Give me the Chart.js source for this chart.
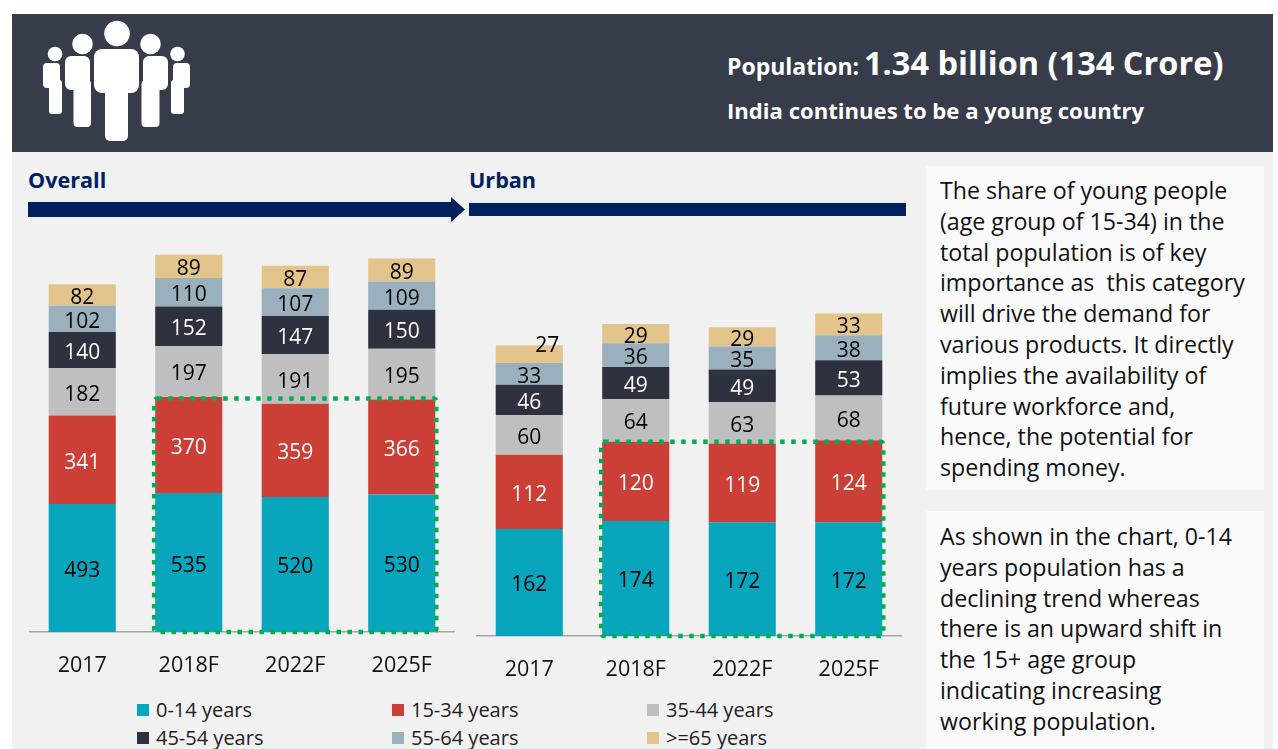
<!DOCTYPE html>
<html>
<head>
<meta charset="utf-8">
<title>India population</title>
<script src="https://cdn.jsdelivr.net/npm/chart.js@4"></script>
<style>
  html, body { margin: 0; padding: 0; background: #fff; overflow: hidden; }
  body { width: 1278px; height: 749px; position: relative; font-family: "Open Sans", sans-serif; color: #111; }
  .abs { position: absolute; white-space: nowrap; }
  #header { left: 12px; top: 14px; width: 1261px; height: 138px; background: #363c4a; }
  #panel { left: 12px; top: 152px; width: 1261px; height: 597px; background: #f1f1f1; }
  .hd { color: #fff; font-weight: 700; }
  .sub { color: #002060; font-weight: 700; font-size: 21.6px; line-height: 28px; }
  .note { left: 926px; width: 338px; background: #fafafa; font-size: 23.2px; line-height: 30.8px; }
  .note div { position: absolute; left: 14px; white-space: pre; }
  .key { font-size: 20px; line-height: 24px; color: #222; }
  .swatch { width: 12px; height: 12px; }
  canvas { position: absolute; }
</style>
</head>
<body>
<div class="abs" id="header"></div>
<div class="abs" id="panel"></div>

<svg class="abs" style="left:0;top:0" width="240" height="152" fill="#fff">
  <circle cx="117" cy="33.5" r="12.8"/>
  <rect x="94" y="49" width="45" height="44" rx="8"/>
  <rect x="105" y="85" width="23" height="56" rx="5"/>
  <circle cx="82.5" cy="44" r="10.3"/>
  <rect x="65" y="56" width="25" height="34" rx="6"/>
  <rect x="73.5" y="80" width="17.5" height="47" rx="4"/>
  <circle cx="150.5" cy="44" r="10.3"/>
  <rect x="143" y="56" width="25" height="34" rx="6"/>
  <rect x="141.5" y="80" width="18" height="47" rx="4"/>
  <circle cx="55" cy="54" r="7.3"/>
  <rect x="43" y="63" width="17" height="25" rx="4"/>
  <rect x="49" y="80" width="13" height="34" rx="3"/>
  <circle cx="177.5" cy="54" r="7.3"/>
  <rect x="173" y="63" width="17" height="25" rx="4"/>
  <rect x="171" y="80" width="13" height="34" rx="3"/>
</svg>

<div class="abs hd" style="left:727px;top:50px;font-size:23px;line-height:32px">Population:</div>
<div class="abs hd" style="left:864px;top:41px;font-size:32.5px;line-height:44px">1.34 billion (134 Crore)</div>
<div class="abs hd" style="left:727px;top:95px;font-size:22.1px;line-height:30px">India continues to be a young country</div>

<div class="abs sub" style="left:28px;top:166px">Overall</div>
<div class="abs sub" style="left:469px;top:166px">Urban</div>
<svg class="abs" style="left:0;top:190px" width="920" height="40" fill="#002060">
  <polygon points="28,12 451,12 451,7 465,19.5 451,32 451,27 28,27"/>
  <rect x="469" y="13" width="437" height="13"/>
</svg>

<canvas id="overallChart" width="426" height="440" style="left:29px;top:240px"></canvas>
<canvas id="urbanChart" width="426" height="440" style="left:476px;top:244px"></canvas>

<div id="legend"></div>

<div class="abs note" style="top:166px;height:324px">
  <div style="top:9px">The share of young people
(age group of 15-34) in the
total population is of key
importance as  this category
will drive the demand for
various products. It directly
implies the availability of
future workforce and,
hence, the potential for
spending money.</div>
</div>
<div class="abs note" style="top:511px;height:238px">
  <div style="top:10px">As shown in the chart, 0-14
years population has a
declining trend whereas
there is an upward shift in
the 15+ age group
indicating increasing
working population.</div>
</div>

<script>
// Categories et valeurs
const years = ['2017', '2018F', '2022F', '2025F'];
const ageGroups = ['0-14 years', '15-34 years', '35-44 years', '45-54 years', '55-64 years', '>=65 years'];
const colors = ['#08a6bd', '#cb3f36', '#bfbfbf', '#2e323f', '#9ab0bc', '#e3c48a'];
const labelColors = ['#000', '#fff', '#000', '#fff', '#000', '#000'];

const overall0_14 = [493, 535, 520, 530];
const overall15_34 = [341, 370, 359, 366];
const overall35_44 = [182, 197, 191, 195];
const overall45_54 = [140, 152, 147, 150];
const overall55_64 = [102, 110, 107, 109];
const overall65 = [82, 89, 87, 89];

const urban0_14 = [162, 174, 172, 172];
const urban15_34 = [112, 120, 119, 124];
const urban35_44 = [60, 64, 63, 68];
const urban45_54 = [46, 49, 49, 53];
const urban55_64 = [33, 36, 35, 38];
const urban65 = [27, 29, 29, 33];

const overallSeries = [overall0_14, overall15_34, overall35_44, overall45_54, overall55_64, overall65];
const urbanSeries = [urban0_14, urban15_34, urban35_44, urban45_54, urban55_64, urban65];

const fontName = '"Open Sans", sans-serif';

// Valeurs dans les barres + cadre vert en pointilles autour de 2018F-2025F
const stackExtras = {
    id: 'stackExtras',
    afterDatasetsDraw(chart) {
        const ctx = chart.ctx;
        const ys = chart.scales.y;
        ctx.save();
        ctx.font = '21px ' + fontName;
        ctx.textAlign = 'center';
        ctx.textBaseline = 'middle';
        chart.data.datasets.forEach((ds, i) => {
            chart.getDatasetMeta(i).data.forEach((bar, j) => {
                const y = (bar.y + bar.base) / 2;
                // le 27 urbain est decale dans l'original
                const shifted = chart.canvas.id === 'urbanChart' && i === 5 && j === 0;
                ctx.fillStyle = labelColors[i];
                ctx.fillText(ds.data[j], bar.x + (shifted ? 18 : 0), y + (shifted ? -8 : 3));
            });
        });

        const first = chart.getDatasetMeta(0).data[1];
        const last = chart.getDatasetMeta(0).data[3];
        const top = Math.max(...[1, 2, 3].map(j => chart.data.datasets[0].data[j] + chart.data.datasets[1].data[j]));
        const left = first.x - first.width / 2 - 1;
        const right = last.x + last.width / 2 + 1;
        const topY = ys.getPixelForValue(top) + 1.5;
        ctx.strokeStyle = '#00b050';
        ctx.lineWidth = 4.5;
        ctx.setLineDash([4.5, 6.5]);
        ctx.beginPath();
        ctx.roundRect(left, topY, right - left, ys.getPixelForValue(0) - topY, 3);
        ctx.stroke();
        ctx.restore();
    },
};

function initStackChart(id, series, yMax) {
    new Chart(document.getElementById(id), {
        type: 'bar',
        data: {
            labels: years,
            datasets: series.map((values, i) => ({
                label: ageGroups[i],
                data: values,
                backgroundColor: colors[i],
                borderWidth: 0,
                barPercentage: 0.63,
                categoryPercentage: 1,
            })),
        },
        options: {
            responsive: false,
            animation: false,
            layout: { padding: 0 },
            plugins: { legend: { display: false }, tooltip: { enabled: false } },
            scales: {
                x: {
                    stacked: true,
                    afterFit: (axis) => { axis.height = 48; },
                    grid: { display: false },
                    border: { color: '#a6a6a6', width: 1.5 },
                    ticks: { color: '#111', padding: 13, font: { family: fontName, size: 21.5 } },
                },
                y: { stacked: true, display: false, min: 0, max: yMax },
            },
        },
        plugins: [stackExtras],
    });
}

// Legende sur deux lignes, trois colonnes
function buildLegend() {
    const holder = document.getElementById('legend');
    const swatchX = [137, 392, 647];
    const rowY = [698, 726];
    ageGroups.forEach((name, i) => {
        const col = i % 3;
        const row = Math.floor(i / 3);
        const sw = document.createElement('div');
        sw.className = 'abs swatch';
        sw.style.cssText = `left:${swatchX[col]}px;top:${rowY[row] + 6}px;background:${colors[i]}`;
        const txt = document.createElement('div');
        txt.className = 'abs key';
        txt.style.cssText = `left:${swatchX[col] + 19}px;top:${rowY[row]}px`;
        txt.textContent = name;
        holder.append(sw, txt);
    });
}

document.addEventListener('DOMContentLoaded', () => {
    initStackChart('overallChart', overallSeries, 1510);
    initStackChart('urbanChart', urbanSeries, 593);
    buildLegend();
});
</script>
</body>
</html>
